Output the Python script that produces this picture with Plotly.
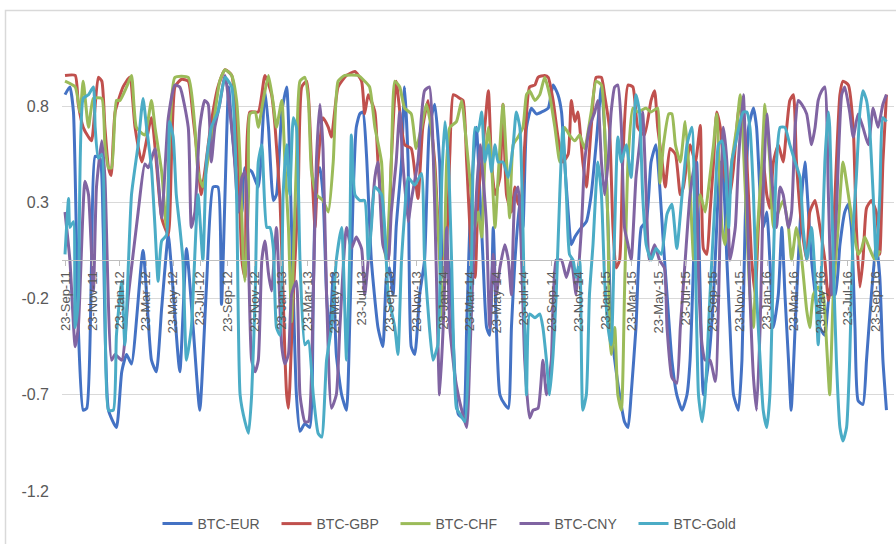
import pandas as pd
import plotly.graph_objects as go

# ---- data: (days since 23-Sep-2011, rolling correlation) ----
BASE_DATE = "2011-09-23"

EUR = [(-1,0.86),(10,0.90),(18,0.77),(29,-0.35),(40,-0.78),(48,-0.77),(59,0.0),(67,0.54),(78,0.53),(85,0.17),(97,-0.78),(115,-0.87),(127,-0.58),(138,-0.49),(149,-0.54),(175,0.05),(194,-0.52),(205,-0.58),(217,-0.25),(232,0.13),(239,-0.04),(258,-0.58),(273,0.06),(288,-0.35),(303,-0.78),(318,-0.14),(333,0.38),(344,0.38),(352,-0.23),(368,0.90),(375,0.69),(386,0.43),(398,0.25),(405,0.48),(420,0.46),(435,0.38),(450,0.88),(458,0.69),(469,0.31),(476,0.34),(488,0.77),(499,0.90),(506,0.51),(514,-0.18),(521,-0.70),(529,-0.89),(540,-0.85),(551,-0.87),(559,-0.18),(566,0.43),(574,0.48),(581,0.34),(589,-0.18),(596,-0.39),(604,-0.07),(611,-0.49),(623,-0.70),(634,-0.78),(641,-0.35),(649,0.34),(656,0.69),(664,0.76),(671,0.77),(679,0.55),(690,0.0),(705,-0.35),(716,-0.45),(724,-0.09),(731,-0.04),(739,-0.18),(746,0.17),(758,0.51),(765,0.90),(773,0.51),(780,-0.45),(788,-0.49),(799,-0.18),(810,0.0),(821,0.69),(833,0.81),(844,0.51),(852,-0.09),(864,0.0),(875,-0.44),(886,-0.80),(897,-0.82),(905,-0.35),(912,0.17),(920,0.51),(927,0.69),(935,0.34),(942,0.0),(950,-0.35),(957,-0.39),(965,0.17),(972,-0.35),(980,-0.70),(991,-0.75),(999,-0.77),(1006,-0.35),(1014,0.0),(1025,0.31),(1032,0.17),(1040,0.69),(1051,0.79),(1062,0.76),(1074,0.77),(1089,0.79),(1100,0.91),(1111,0.86),(1119,0.77),(1126,0.51),(1134,0.25),(1141,0.08),(1149,0.12),(1164,0.17),(1175,0.20),(1186,0.34),(1197,0.60),(1209,0.90),(1216,0.69),(1224,0.17),(1231,-0.35),(1239,-0.52),(1250,-0.70),(1261,-0.84),(1269,-0.87),(1276,-0.70),(1287,-0.35),(1299,0.17),(1310,0.20),(1321,0.51),(1332,0.60),(1340,0.40),(1349,0.08),(1357,-0.18),(1368,-0.52),(1379,-0.70),(1391,-0.78),(1402,-0.70),(1409,-0.52),(1417,0.0),(1424,0.51),(1432,-0.18),(1439,-0.70),(1451,-0.52),(1462,-0.18),(1469,0.17),(1477,0.51),(1484,0.43),(1492,0.0),(1499,-0.35),(1507,-0.70),(1518,-0.78),(1526,-0.52),(1533,0.17),(1541,0.69),(1552,0.79),(1559,0.69),(1567,0.34),(1574,0.17),(1582,0.25),(1589,0.0),(1597,-0.35),(1608,-0.18),(1616,0.17),(1623,-0.18),(1631,-0.52),(1637,-0.78),(1646,-0.35),(1653,0.0),(1661,0.34),(1668,0.51),(1676,0.25),(1683,0.0),(1702,-0.35),(1713,-0.39),(1724,-0.18),(1736,-0.18),(1747,0.08),(1758,0.25),(1766,0.29),(1773,0.17),(1781,-0.35),(1788,-0.73),(1799,-0.75),(1807,-0.52),(1818,-0.18),(1829,0.08),(1837,-0.09),(1844,-0.52),(1852,-0.78)]

GBP = [(-1,0.96),(22,0.96),(29,0.81),(40,0.69),(52,0.64),(59,0.62),(74,0.95),(82,0.93),(89,0.69),(97,0.48),(103,0.44),(112,0.77),(130,0.90),(145,0.95),(157,0.69),(172,0.51),(194,0.74),(217,0.22),(232,0.13),(247,0.90),(262,0.94),(277,0.93),(288,0.74),(299,0.51),(306,0.34),(329,0.72),(344,0.90),(360,0.99),(375,0.96),(390,0.51),(398,0.0),(405,-0.09),(416,0.77),(435,0.77),(450,0.96),(465,0.86),(473,0.69),(484,0.31),(491,-0.18),(495,-0.49),(499,-0.70),(503,-0.77),(506,-0.66),(514,-0.18),(525,0.34),(533,0.90),(544,0.93),(555,0.51),(563,0.17),(570,0.51),(581,0.74),(593,0.69),(600,0.64),(615,0.90),(634,0.96),(653,0.98),(668,0.93),(675,0.76),(683,0.86),(698,0.77),(705,0.51),(720,0.13),(728,0.0),(735,0.51),(746,0.93),(765,0.60),(780,0.58),(795,0.32),(806,0.69),(818,0.83),(833,0.51),(848,0.01),(856,0.0),(867,0.55),(875,0.86),(890,0.84),(897,0.83),(905,0.51),(916,0.03),(924,-0.09),(931,0.34),(939,0.51),(954,0.88),(961,0.51),(969,0.34),(980,0.43),(987,0.81),(995,0.34),(1006,0.25),(1014,0.38),(1021,0.29),(1029,0.34),(1036,0.60),(1047,0.90),(1059,0.91),(1066,0.95),(1081,0.96),(1089,0.95),(1100,0.83),(1111,0.64),(1122,0.51),(1134,0.55),(1141,0.83),(1149,0.72),(1156,0.77),(1167,0.51),(1175,0.38),(1186,0.69),(1197,0.95),(1209,0.95),(1216,0.86),(1227,0.69),(1235,0.17),(1242,-0.04),(1250,0.0),(1257,0.51),(1269,0.91),(1280,0.90),(1291,0.69),(1306,0.65),(1321,0.83),(1329,0.88),(1336,0.69),(1346,0.51),(1353,0.38),(1364,0.58),(1376,0.55),(1387,0.34),(1394,0.38),(1402,0.51),(1409,0.60),(1421,0.51),(1432,0.70),(1439,0.06),(1447,0.03),(1454,0.25),(1462,0.51),(1469,0.77),(1477,0.69),(1488,0.43),(1499,0.34),(1507,0.48),(1518,0.77),(1526,0.83),(1537,0.51),(1548,0.0),(1556,-0.18),(1563,0.17),(1574,0.51),(1582,0.34),(1589,0.27),(1597,0.51),(1608,0.60),(1619,0.51),(1627,0.69),(1634,0.83),(1642,0.86),(1649,0.51),(1661,0.17),(1672,0.0),(1679,0.25),(1691,0.31),(1702,0.17),(1713,0.0),(1721,-0.21),(1728,-0.09),(1736,0.34),(1747,0.86),(1754,0.93),(1766,0.91),(1777,0.69),(1784,0.17),(1792,-0.14),(1799,0.0),(1807,0.27),(1818,0.31),(1829,0.25),(1837,0.03),(1844,0.51),(1852,0.86)]

CHF = [(-1,0.93),(22,0.90),(33,0.77),(40,0.93),(52,0.69),(63,0.84),(82,0.84),(89,0.60),(97,0.48),(104,0.48),(115,0.83),(123,0.83),(138,0.90),(149,0.96),(160,0.69),(179,0.65),(194,0.83),(202,0.69),(217,0.46),(228,0.17),(247,0.95),(277,0.95),(292,0.69),(299,0.46),(310,0.38),(322,0.53),(333,0.69),(348,0.93),(360,0.99),(375,0.96),(386,0.83),(394,0.51),(401,0.0),(405,-0.11),(413,0.34),(416,0.76),(428,0.77),(435,0.69),(446,0.83),(458,0.96),(469,0.81),(476,0.69),(488,0.83),(495,0.51),(503,0.17),(510,-0.32),(514,0.0),(521,0.51),(529,0.93),(540,0.95),(548,0.83),(555,0.46),(566,0.34),(581,0.31),(593,0.25),(604,0.51),(615,0.93),(630,0.96),(660,0.96),(675,0.93),(686,0.90),(698,0.69),(713,0.51),(720,0.06),(724,0.0),(735,0.51),(743,0.93),(754,0.90),(765,0.79),(780,0.76),(791,0.58),(803,0.69),(814,0.81),(825,0.69),(836,0.34),(844,0.0),(851,-0.32),(860,0.51),(867,0.69),(882,0.72),(894,0.83),(901,0.69),(912,0.43),(924,0.17),(931,0.25),(939,0.12),(946,0.51),(954,0.69),(961,0.51),(969,0.17),(976,0.43),(987,0.81),(995,0.51),(1002,0.22),(1010,0.60),(1021,0.64),(1032,0.69),(1040,0.86),(1047,0.88),(1059,0.83),(1070,0.86),(1081,0.95),(1092,0.86),(1104,0.69),(1115,0.51),(1126,0.69),(1137,0.65),(1149,0.62),(1160,0.65),(1171,0.58),(1186,0.77),(1197,0.93),(1209,0.91),(1216,0.69),(1224,0.17),(1227,-0.35),(1231,-0.49),(1239,-0.35),(1246,-0.70),(1254,-0.78),(1261,-0.18),(1269,0.51),(1280,0.79),(1291,0.77),(1310,0.79),(1321,0.77),(1336,0.79),(1341,0.40),(1349,0.60),(1361,0.76),(1368,0.76),(1376,0.60),(1387,0.51),(1398,0.72),(1409,0.38),(1417,0.0),(1424,0.25),(1432,0.34),(1443,0.25),(1451,0.38),(1462,0.60),(1469,0.76),(1481,0.17),(1488,0.08),(1496,0.34),(1503,0.51),(1514,0.69),(1522,0.86),(1529,0.60),(1537,0.17),(1544,-0.18),(1552,-0.35),(1559,0.08),(1571,0.51),(1578,0.81),(1589,0.51),(1597,0.17),(1608,0.25),(1619,0.31),(1631,0.17),(1638,0.0),(1649,0.17),(1661,0.0),(1672,-0.26),(1679,-0.35),(1687,-0.18),(1698,-0.14),(1709,-0.18),(1717,-0.44),(1724,-0.70),(1732,-0.18),(1743,0.17),(1754,0.51),(1766,0.34),(1777,0.17),(1788,0.03),(1796,0.06),(1803,0.12),(1814,0.06),(1826,0.0),(1837,0.05)]

CNY = [(-1,0.25),(10,0.0),(22,-0.45),(29,-0.35),(44,0.41),(52,0.34),(63,-0.16),(70,0.38),(82,0.62),(89,0.43),(104,-0.52),(112,-0.49),(127,-0.52),(142,-0.18),(164,0.25),(179,0.50),(187,0.48),(202,0.58),(217,0.22),(232,0.74),(247,0.91),(258,0.90),(277,0.69),(284,0.17),(292,0.25),(303,0.69),(314,0.83),(322,0.81),(329,0.51),(337,0.69),(348,0.81),(360,0.96),(371,0.77),(379,0.60),(390,0.25),(398,0.43),(405,0.46),(413,0.0),(420,-0.52),(428,-0.58),(435,-0.52),(443,0.0),(450,0.10),(458,-0.07),(465,-0.16),(476,0.17),(488,-0.45),(495,-0.54),(503,-0.49),(510,-0.18),(521,-0.11),(529,-0.70),(540,-0.84),(548,-0.84),(559,-0.18),(566,0.51),(574,0.81),(581,0.58),(589,-0.18),(600,-0.77),(611,-0.70),(619,-0.35),(634,0.17),(645,0.06),(656,0.12),(668,0.06),(675,-0.18),(686,0.08),(698,0.43),(705,0.51),(716,0.08),(728,0.0),(735,0.25),(746,0.51),(754,0.77),(761,0.51),(773,0.20),(780,0.31),(795,0.51),(810,0.88),(821,0.90),(829,0.60),(836,0.0),(844,-0.70),(852,-0.35),(860,0.17),(867,-0.35),(879,-0.61),(886,-0.70),(894,-0.78),(905,-0.87),(912,-0.52),(920,0.0),(927,0.34),(935,0.60),(942,0.43),(950,0.17),(957,-0.35),(965,0.03),(972,-0.18),(980,-0.04),(991,0.08),(999,0.0),(1006,-0.18),(1014,0.34),(1021,0.38),(1029,0.0),(1036,-0.52),(1047,-0.82),(1055,-0.78),(1066,-0.77),(1077,-0.52),(1085,-0.70),(1096,-0.52),(1107,0.0),(1119,0.0),(1130,-0.09),(1141,0.0),(1152,-0.18),(1164,0.17),(1171,0.51),(1182,0.69),(1194,0.77),(1201,0.83),(1209,0.51),(1216,0.34),(1224,0.51),(1231,0.77),(1239,0.90),(1246,0.91),(1254,0.69),(1261,0.17),(1269,0.08),(1276,0.0),(1287,0.43),(1295,0.60),(1302,0.77),(1310,0.34),(1317,0.0),(1329,0.08),(1340,0.0),(1351,-0.04),(1357,-0.35),(1368,-0.61),(1379,-0.64),(1387,-0.35),(1398,0.0),(1409,0.34),(1421,0.51),(1428,-0.09),(1436,-0.44),(1443,-0.52),(1454,-0.52),(1466,-0.63),(1477,0.17),(1484,0.69),(1492,0.51),(1499,0.0),(1511,0.17),(1518,0.51),(1529,0.86),(1537,0.34),(1544,-0.18),(1552,-0.61),(1559,-0.78),(1567,-0.35),(1574,0.34),(1582,0.76),(1593,0.43),(1604,0.17),(1612,0.38),(1619,0.34),(1631,0.17),(1638,0.25),(1646,0.69),(1653,0.83),(1661,0.81),(1672,0.76),(1683,0.60),(1691,0.69),(1698,0.83),(1706,0.88),(1713,0.90),(1721,0.34),(1728,-0.18),(1739,0.25),(1751,0.86),(1758,0.90),(1769,0.77),(1777,0.64),(1788,0.76),(1799,0.69),(1811,0.60),(1822,0.79),(1833,0.69),(1844,0.81),(1852,0.86)]

GOLD = [(-1,0.03),(7,0.32),(10,0.17),(18,0.20),(22,-0.35),(29,-0.21),(40,0.84),(52,0.86),(63,0.90),(67,0.69),(74,0.53),(82,0.55),(89,-0.18),(97,-0.78),(108,-0.78),(115,-0.39),(127,-0.11),(134,-0.44),(149,0.34),(164,0.60),(175,0.84),(183,0.69),(194,0.48),(202,0.17),(209,-0.11),(217,0.10),(228,0.13),(235,0.72),(243,0.64),(250,0.34),(258,0.17),(265,0.0),(273,-0.52),(284,-0.35),(299,0.34),(310,0.0),(318,0.51),(329,0.69),(344,0.77),(360,0.95),(375,0.90),(386,0.34),(394,-0.70),(405,-0.84),(413,-0.90),(420,-0.70),(428,-0.18),(435,0.51),(443,0.60),(454,0.17),(461,0.17),(469,0.06),(476,-0.35),(484,-0.39),(491,0.34),(499,0.60),(506,0.34),(514,0.74),(521,0.69),(529,0.0),(540,-0.44),(548,-0.42),(559,-0.70),(570,-0.90),(578,-0.92),(589,-0.52),(600,-0.35),(611,0.0),(623,0.17),(634,-0.52),(641,0.0),(645,0.65),(653,0.34),(664,0.31),(675,0.31),(683,0.0),(690,0.17),(698,0.38),(713,0.34),(720,0.17),(728,-0.18),(735,-0.26),(743,-0.35),(750,-0.49),(758,0.0),(765,0.24),(773,0.43),(788,0.39),(803,0.45),(810,0.0),(821,-0.35),(829,-0.52),(840,-0.44),(849,0.43),(856,0.72),(864,0.51),(871,0.0),(882,-0.77),(890,-0.80),(901,-0.84),(909,-0.52),(916,0.0),(924,0.69),(931,0.67),(939,0.77),(946,0.51),(954,0.60),(961,0.46),(969,0.60),(976,0.51),(987,0.51),(999,0.43),(1010,0.60),(1017,0.77),(1025,0.69),(1032,0.17),(1040,-0.70),(1047,-0.28),(1059,-0.30),(1070,-0.28),(1077,-0.35),(1085,-0.52),(1092,-0.70),(1100,-0.49),(1107,-0.18),(1115,0.34),(1122,0.69),(1130,0.34),(1137,0.03),(1145,0.0),(1152,-0.09),(1160,0.0),(1167,-0.78),(1175,-0.70),(1182,-0.18),(1190,0.08),(1201,0.51),(1209,0.34),(1216,-0.09),(1224,-0.35),(1231,-0.44),(1239,0.17),(1246,0.64),(1254,0.51),(1265,0.60),(1276,0.43),(1287,0.86),(1295,0.77),(1302,0.34),(1310,0.08),(1321,0.0),(1332,0.06),(1344,0.03),(1357,0.24),(1368,0.29),(1379,0.06),(1391,0.34),(1402,0.60),(1413,0.69),(1421,0.0),(1428,-0.70),(1436,-0.84),(1443,-0.70),(1454,-0.18),(1466,0.34),(1473,0.60),(1481,0.62),(1488,0.51),(1496,0.17),(1503,0.51),(1511,0.60),(1522,0.72),(1529,0.77),(1537,0.77),(1544,0.69),(1552,0.34),(1559,-0.18),(1567,-0.52),(1574,-0.78),(1582,-0.87),(1589,-0.70),(1597,0.0),(1604,0.51),(1612,0.69),(1623,0.69),(1634,0.60),(1646,0.51),(1657,0.43),(1664,0.17),(1672,0.0),(1683,0.17),(1691,-0.09),(1698,-0.44),(1706,0.0),(1713,0.51),(1721,0.77),(1724,0.69),(1732,0.0),(1739,-0.52),(1747,-0.87),(1754,-0.94),(1762,-0.87),(1769,-0.52),(1777,0.17),(1784,0.43),(1792,0.77),(1799,0.88),(1807,0.83),(1814,0.69),(1822,0.34),(1829,0.0),(1837,0.34),(1844,0.74),(1852,0.72)]

SERIES_NAMES = ["BTC-EUR", "BTC-GBP", "BTC-CHF", "BTC-CNY", "BTC-Gold"]
SERIES_DATA = [EUR, GBP, CHF, CNY, GOLD]
COLORS = ["#4472C4", "#C0504D", "#9BBB59", "#8064A2", "#4BACC6"]

Y_TICKS = [-1.2, -0.7, -0.2, 0.3, 0.8]
Y_TICK_TEXT = ["-1.2", "-0.7", "-0.2", "0.3", "0.8"]
X_TICK_DATES = list(pd.date_range("2011-09-23", "2016-09-23", freq=pd.DateOffset(months=2)))
X_TICK_TEXT = [f"{d.day}-{d.strftime('%b')}-{d.strftime('%y')}" for d in X_TICK_DATES]

# ---- layout geometry ----
W, H = 896, 544
ML, MR, MT, MB = 62, 2, 10, 53
PW, PH = W - ML - MR, H - MT - MB
Y_MIN, Y_MAX = -1.2, 1.3

base = pd.Timestamp(BASE_DATE)
FONT = "Liberation Sans Narrow, Arial Narrow, Liberation Sans, Arial, sans-serif"
GREY_TXT = "#595959"

fig = go.Figure()
for name, pts, col in zip(SERIES_NAMES, SERIES_DATA, COLORS):
    days = [p[0] for p in pts]
    vals = [p[1] for p in pts]
    x = [base + pd.Timedelta(days=d) for d in days]
    fig.add_trace(go.Scatter(x=x, y=vals, mode="lines", name=name,
                             line=dict(color=col, width=3, shape="spline", smoothing=0.5)))

def px_x(px):
    return (px - ML) / PW

def px_y(py):
    return (H - MB - py) / PH

fig.update_layout(
    width=W, height=H,
    margin=dict(l=ML, r=MR, t=MT, b=MB),
    paper_bgcolor="white", plot_bgcolor="white",
    font=dict(family=FONT, color=GREY_TXT, size=15),
    showlegend=True,
    legend=dict(orientation="h", x=px_x(455), xanchor="center", y=px_y(524), yanchor="middle",
                font=dict(size=14, color=GREY_TXT), entrywidth=74, entrywidthmode="pixels",
                bgcolor="rgba(0,0,0,0)"),
    xaxis=dict(type="date",
               range=[base - pd.Timedelta(days=7.8), base + pd.Timedelta(days=1869)],
               anchor="free", position=(0 - Y_MIN) / (Y_MAX - Y_MIN),
               tickmode="array", tickvals=X_TICK_DATES, ticktext=X_TICK_TEXT,
               tickangle=-90, tickfont=dict(size=13, color=GREY_TXT),
               showline=True, linecolor="#BFBFBF", linewidth=1,
               ticks="outside", ticklen=5, tickcolor="#BFBFBF",
               showgrid=False, zeroline=False),
    yaxis=dict(range=[Y_MIN, Y_MAX], tickmode="array", tickvals=Y_TICKS, ticktext=Y_TICK_TEXT,
               showgrid=True, gridcolor="#D9D9D9", gridwidth=1,
               zeroline=False, showline=False, ticks="",
               tickfont=dict(size=16, color=GREY_TXT), ticklabelstandoff=12),
    shapes=[dict(type="rect", xref="paper", yref="paper",
                 x0=px_x(5.5), x1=px_x(910), y0=px_y(560), y1=px_y(10.5),
                 line=dict(color="#D9D9D9", width=1.5), fillcolor="rgba(0,0,0,0)", layer="below")],
)

fig.write_html("out.html", config={"displayModeBar": False},
               post_script="document.body.style.margin='0px';document.body.style.overflow='hidden';")
